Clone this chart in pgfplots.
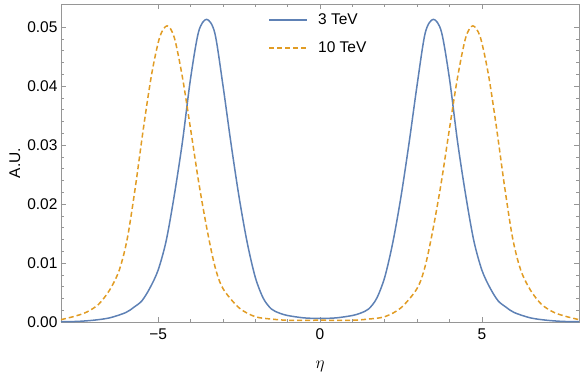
\documentclass[border=0pt]{standalone}
\usepackage{pgfplots}
\pgfplotsset{compat=1.18}
\usepackage{fontspec}
\setmainfont{Liberation Sans}

\definecolor{mblue}{RGB}{94,129,181}
\definecolor{morange}{RGB}{225,156,36}
\definecolor{frame}{RGB}{150,150,150}

\begin{document}
\begin{tikzpicture}
\begin{axis}[
	name=a,
	scale only axis,
	width=518pt, height=318pt,
	xmin=-8, xmax=8,
	ymin=0, ymax=0.0539,
	axis line style={frame, line width=0.8pt},
	tick style={frame, line width=0.6pt},
	tick align=inside,
	major tick length=5pt,
	minor tick length=3pt,
	xtick={-5,0,5},
	xticklabels={−5,0,5},
	minor x tick num=4,
	ytick={0,0.01,0.02,0.03,0.04,0.05},
	minor y tick num=4,
	yticklabel style={/pgf/number format/.cd, fixed, fixed zerofill,
		precision=2, assume math mode=true},
	xticklabel style={yshift=-3pt},
	scaled y ticks=false,
	ticklabel style={font=\fontsize{15.5}{18}\selectfont},
	label style={font=\fontsize{15.5}{18}\selectfont},
	xlabel={\fontsize{17}{20}\selectfont$\eta$},
	ylabel={A.U.},
	xlabel style={at={(axis description cs:0.5,-0.14)}, anchor=center},
	ylabel style={at={(axis description cs:-0.089,0.5)}, anchor=center},
	legend style={at={(0.40,0.975)}, anchor=north west, draw=none,
		fill=none, font=\fontsize{15.5}{18}\selectfont,
		row sep=11pt, inner sep=0pt,
		/tikz/every odd column/.append style={column sep=8pt}},
	legend cell align=left,
	legend image code/.code={\draw[#1, line width=1.8pt, line cap=butt] (0pt,0pt) -- (38pt,0pt);},
]
\addplot[mblue, line width=1.5pt, smooth] coordinates {
(-8.0,0.00005) (-7.5,0.0001) (-7.0,0.0003) (-6.5,0.0007) (-6.0,0.0016)
(-5.75,0.0025) (-5.5,0.0036) (-5.25,0.0058) (-5.0,0.0088) (-4.75,0.0138)
(-4.5,0.0215) (-4.25,0.0305) (-4.0,0.0412) (-3.75,0.0492) (-3.5,0.0513)
(-3.25,0.0490) (-3.0,0.0402) (-2.75,0.0303) (-2.5,0.0212) (-2.25,0.0135)
(-2.0,0.0076) (-1.75,0.0040) (-1.5,0.0022) (-1.25,0.0015) (-1.0,0.0011)
(-0.5,0.0007) (0,0.0006)
(0.5,0.0007) (1.0,0.0011) (1.25,0.0015) (1.5,0.0022) (1.75,0.0040)
(2.0,0.0076) (2.25,0.0135) (2.5,0.0212) (2.75,0.0303) (3.0,0.0402)
(3.25,0.0490) (3.5,0.0513) (3.75,0.0492) (4.0,0.0412) (4.25,0.0305)
(4.5,0.0215) (4.75,0.0138) (5.0,0.0088) (5.25,0.0058) (5.5,0.0036)
(5.75,0.0025) (6.0,0.0016) (6.5,0.0007) (7.0,0.0003) (7.5,0.0001) (8.0,0.00005)
};
\addlegendentry{3 TeV}
\addplot[morange, line width=1.5pt, smooth, dash pattern=on 5pt off 3pt] coordinates {
(-8.0,0.0004) (-7.56,0.0010) (-7.2,0.0017) (-6.84,0.0030) (-6.5,0.0054)
(-6.2,0.0088) (-5.95,0.0142) (-5.7,0.0230) (-5.45,0.0330) (-5.2,0.0420)
(-4.95,0.0483) (-4.72,0.0502) (-4.5,0.0482) (-4.25,0.0415) (-4.0,0.0328)
(-3.75,0.0238) (-3.5,0.0160) (-3.25,0.0095) (-3.0,0.0057) (-2.5,0.0024)
(-2.0,0.0009) (-1.5,0.0005) (-1.0,0.0003) (0,0.0003)
(1.0,0.0003) (1.5,0.0005) (2.0,0.0009) (2.5,0.0024) (3.0,0.0057)
(3.25,0.0095) (3.5,0.0160) (3.75,0.0238) (4.0,0.0328) (4.25,0.0415)
(4.5,0.0482) (4.72,0.0502) (4.95,0.0483) (5.2,0.0420) (5.45,0.0330)
(5.7,0.0230) (5.95,0.0142) (6.2,0.0088) (6.5,0.0054) (6.84,0.0030)
(7.2,0.0017) (7.56,0.0010) (8.0,0.0004)
};
\addlegendentry{10 TeV}
\coordinate (bl) at (rel axis cs:0,0);
\coordinate (tr) at (rel axis cs:1,1);
\end{axis}
\pgfresetboundingbox
\path (bl) ++(-61pt,-53pt) coordinate (BL);
\path (tr) ++(2pt,4pt) coordinate (TR);
\path[use as bounding box] (BL) rectangle (TR);
\end{tikzpicture}
\end{document}
